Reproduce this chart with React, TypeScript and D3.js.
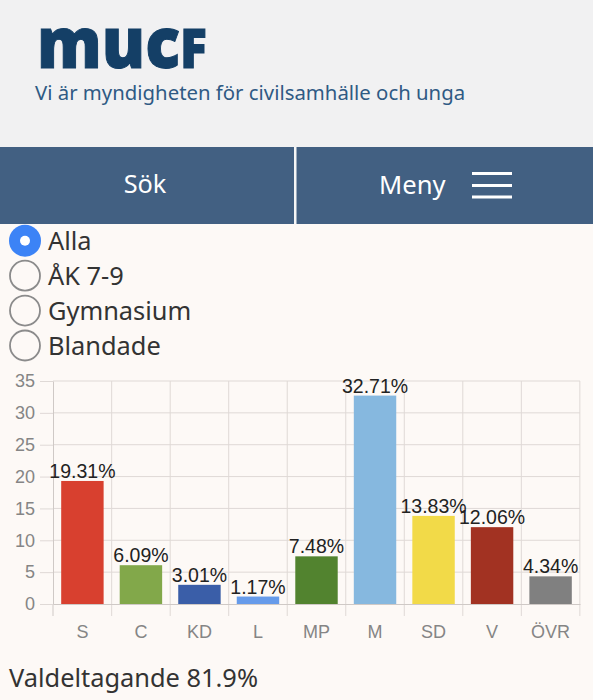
import { useEffect, useRef } from "react";
import * as d3 from "d3";

const parties = ["S", "C", "KD", "L", "MP", "M", "SD", "V", "ÖVR"];
const shares = [19.31, 6.09, 3.01, 1.17, 7.48, 32.71, 13.83, 12.06, 4.34];
const barColors = [
  "#d8402f",
  "#82a84a",
  "#3a5ea8",
  "#669bea",
  "#52832f",
  "#86b8df",
  "#f2da48",
  "#a23222",
  "#808080",
];
const yTicks = [0, 5, 10, 15, 20, 25, 30, 35];
const schoolTypes = ["Alla", "ÅK 7-9", "Gymnasium", "Blandade"];
const selectedType = "Alla";

const width = 593;
const height = 700;
const uiFont = "'Noto Sans', sans-serif";
const chartFont = "'Liberation Sans', Arial, sans-serif";
const gridColor = "#dfd9d6";
const axisColor = "#cfc9c6";

const margin = { top: 381, right: 13, bottom: 96, left: 53 };

const scaleX = d3
  .scaleBand()
  .domain(parties)
  .range([margin.left, width - margin.right])
  .paddingInner(0.275)
  .paddingOuter(0.14);
const scaleY = d3
  .scaleLinear()
  .domain([0, 35])
  .range([height - margin.bottom, margin.top]);
const scaleRadio = d3
  .scalePoint()
  .domain(schoolTypes)
  .range([240.7, 345.5]);

function AxisLeft() {
  const ref = useRef<SVGGElement>(null);

  useEffect(() => {
    if (ref.current) {
      const g = d3.select(ref.current);
      g.call(
        d3
          .axisLeft(scaleY)
          .tickValues(yTicks)
          .tickSize(13)
          .tickSizeOuter(0)
          .tickPadding(5),
      );
      g.select(".domain").attr("stroke", axisColor).attr("stroke-width", 1);
      g.selectAll("line").attr("stroke", gridColor);
      g.selectAll("text")
        .attr("fill", "#858585")
        .attr("font-family", chartFont)
        .attr("font-size", 18);
    }
  }, []);

  return <g ref={ref} transform={`translate(${margin.left}, 0)`} />;
}

function AxisBottom() {
  const ref = useRef<SVGGElement>(null);

  useEffect(() => {
    if (ref.current) {
      const g = d3.select(ref.current);
      g.call(d3.axisBottom(scaleX).tickSize(0).tickPadding(21));
      g.select(".domain").attr("stroke", axisColor).attr("stroke-width", 1);
      g.selectAll("text")
        .attr("fill", "#858585")
        .attr("font-family", chartFont)
        .attr("font-size", 18);
    }
  }, []);

  return <g ref={ref} transform={`translate(0, ${scaleY(0)})`} />;
}

function Grid() {
  const edges = parties.map(
    (p) => (scaleX(p) as number) + scaleX.bandwidth() + (scaleX.step() - scaleX.bandwidth()) / 2,
  );
  return (
    <g>
      {yTicks.slice(1).map((t) => (
        <line
          key={`h-${t}`}
          x1={margin.left}
          x2={width - margin.right}
          y1={scaleY(t)}
          y2={scaleY(t)}
          stroke={gridColor}
        />
      ))}
      {edges.map((x) => (
        <line
          key={`v-${x}`}
          x1={x}
          x2={x}
          y1={scaleY(35)}
          y2={scaleY(0) + 12}
          stroke={gridColor}
        />
      ))}
      <line
        x1={margin.left}
        x2={margin.left}
        y1={scaleY(0)}
        y2={scaleY(0) + 12}
        stroke={axisColor}
      />
    </g>
  );
}

function Bars() {
  return (
    <>
      {parties.map((p, i) => (
        <g key={`bar-${p}`}>
          <rect
            x={scaleX(p)}
            y={scaleY(shares[i])}
            width={scaleX.bandwidth()}
            height={scaleY(0) - scaleY(shares[i])}
            fill={barColors[i]}
          />
          <text
            x={(scaleX(p) as number) + scaleX.bandwidth() / 2}
            y={scaleY(shares[i]) - 3}
            textAnchor="middle"
            fontFamily={chartFont}
            fontSize={19.5}
            fill="#222"
          >
            {shares[i].toFixed(2)}%
          </text>
        </g>
      ))}
    </>
  );
}

function Header() {
  return (
    <g>
      <rect x={0} y={0} width={width} height={147} fill="#f1f1f2" />
      <text
        x={37}
        y={68}
        fontFamily="'Open Sans', sans-serif"
        fontWeight={800}
        fontSize={70}
        fill="#143f66"
        stroke="#143f66"
        strokeWidth={1}
        textLength={170}
        lengthAdjust="spacingAndGlyphs"
      >
        muc<tspan fontSize={54}>F</tspan>
      </text>
      <text x={35} y={100} fontFamily={uiFont} fontSize={20.35} fill="#2f5a84">
        Vi är myndigheten för civilsamhälle och unga
      </text>
      <rect x={0} y={147} width={width} height={77} fill="#426082" />
      <rect x={294} y={147} width={2.5} height={77} fill="#f6f6f6" />
      <text x={145} y={193} textAnchor="middle" fontFamily={uiFont} fontSize={25.3} fill="#fff">
        Sök
      </text>
      <text x={379} y={194} fontFamily={uiFont} fontSize={25.6} fill="#fff">
        Meny
      </text>
      {[173.5, 185.5, 197].map((y) => (
        <rect key={y} x={472} y={y - 1.5} width={40} height={3} fill="#fff" />
      ))}
    </g>
  );
}

function Radios() {
  return (
    <g>
      {schoolTypes.map((t) => {
        const y = scaleRadio(t) as number;
        const on = t === selectedType;
        return (
          <g key={t}>
            <circle
              cx={25}
              cy={y}
              r={on ? 16 : 15}
              fill={on ? "#3c83f6" : "#fdf9f6"}
              stroke={on ? "none" : "#8b8b8b"}
              strokeWidth={1.8}
            />
            {on && <circle cx={25} cy={y} r={5} fill="#fff" />}
            <text x={48} y={y + 9} fontFamily={uiFont} fontSize={25.4} fill="#333">
              {t}
            </text>
          </g>
        );
      })}
    </g>
  );
}

export default function App() {
  return (
    <>
      <style>{"body{margin:0}svg{display:block}"}</style>
      <svg width={width} height={height}>
        <rect x={0} y={0} width={width} height={height} fill="#fdf9f6" />
        <Header />
        <Radios />
        <Grid />
        <AxisLeft />
        <Bars />
        <AxisBottom />
        <text x={9} y={687} fontFamily={uiFont} fontSize={25.4} fill="#333">
          Valdeltagande 81.9%
        </text>
      </svg>
    </>
  );
}
